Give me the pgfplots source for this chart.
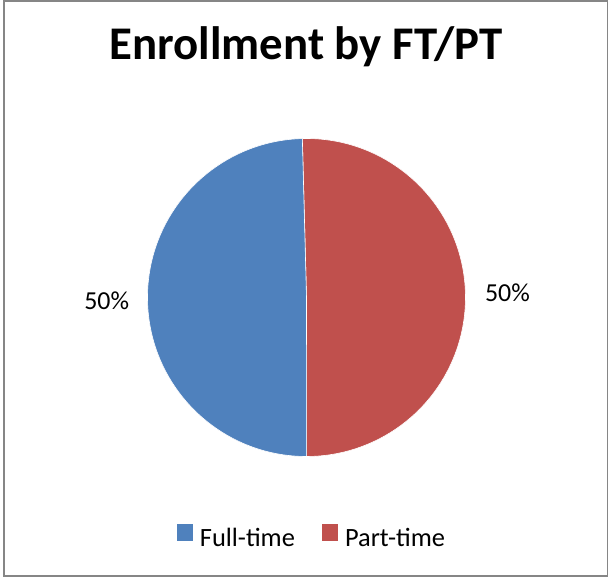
\documentclass[border=0pt]{standalone}
\usepackage{pgfplots}
\pgfplotsset{compat=1.18}
\usepackage{pgfplotstable}
\usepackage{fontspec}
\setmainfont{Carlito}
\definecolor{ftblue}{HTML}{4F81BD}
\definecolor{ptred}{HTML}{C0504D}
\definecolor{framegray}{HTML}{868686}

\pgfplotstableread{
label value
Full-time 49.6
Part-time 50.4
}\piedata
\pgfplotstablegetelem{0}{value}\of\piedata\let\vFT\pgfplotsretval
\pgfplotstablegetelem{1}{value}\of\piedata\let\vPT\pgfplotsretval
\pgfmathsetmacro{\startang}{91.5}
\pgfmathsetmacro{\ptend}{\startang-3.6*\vPT}
\pgfmathsetmacro{\ftend}{\startang+3.6*\vFT}

\begin{document}
\begin{tikzpicture}
\useasboundingbox (0,0) rectangle (610bp,579bp);
\begin{axis}[
  hide axis, x=1bp, y=1bp,
  xmin=0, xmax=610, ymin=0, ymax=579,
  at={(0,0)}, anchor=south west, clip=false,
  /pgf/number format/assume math mode=true,
  legend columns=2,
  legend style={draw=none, fill=none, at={(0.5095,0.0745)}, anchor=center,
    font=\fontsize{26.5}{30}\selectfont, inner sep=0pt,
    nodes={inner sep=0pt},
    /tikz/every even column/.append style={column sep=26.7bp}},
  legend image code/.code={\fill[#1,draw=none] (0bp,-2.9bp) rectangle (16.6bp,13.7bp);
    \path[draw=none,fill=none] (0bp,0bp) -- (23.3bp,0bp);},
]
\addlegendimage{fill=ftblue}
\addlegendentry{Full-time}
\addlegendimage{fill=ptred}
\addlegendentry{Part-time}
\draw[framegray, line width=1.5bp] (axis cs:4.2,578.2) rectangle (axis cs:607.3,3);
\node[font=\bfseries\fontsize{47}{56}\selectfont, anchor=base] at (axis cs:306,519.7) {Enrollment by FT/PT};
\fill[ptred, draw=white, line width=0.6bp] (axis cs:306.5,281.5) -- ++(\startang:159bp) arc[start angle=\startang, end angle=\ptend, radius=159bp] -- cycle;
\fill[ftblue, draw=white, line width=0.6bp] (axis cs:306.5,281.5) -- ++(\startang:159bp) arc[start angle=\startang, end angle=\ftend, radius=159bp] -- cycle;
\node[font=\fontsize{26}{30}\selectfont, anchor=base] at (axis cs:106.7,269.7) {\pgfmathprintnumber[fixed, precision=0, assume math mode=true]{\vFT}\%};
\node[font=\fontsize{26}{30}\selectfont, anchor=base] at (axis cs:507.5,277.3) {\pgfmathprintnumber[fixed, precision=0, assume math mode=true]{\vPT}\%};
\end{axis}
\end{tikzpicture}
\end{document}
